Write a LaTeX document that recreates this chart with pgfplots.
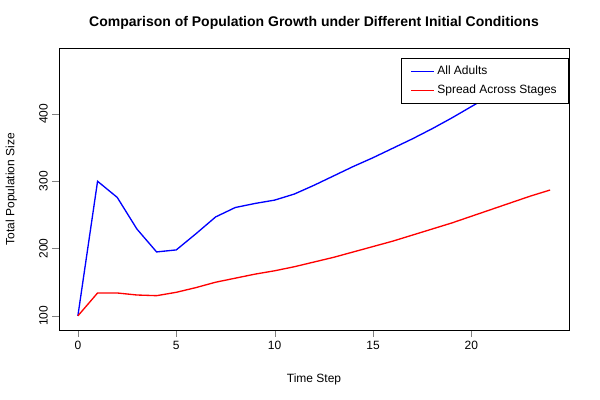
\documentclass[border=0pt]{standalone}
\usepackage{pgfplots}
\pgfplotsset{compat=1.18}
\usepackage{fontspec}
\setmainfont{Liberation Sans}
\begin{document}
\begin{tikzpicture}[x=1pt,y=1pt]
\begin{axis}[name=ax, at={(0,0)}, anchor=south west,
  scale only axis, width=382.5pt, height=211.5pt,
  xmin=-0.96, xmax=24.96, ymin=79, ymax=498,
  xtick={0,5,10,15,20}, ytick={100,200,300,400},
  tick align=outside, major tick length=5pt,
  xtick pos=bottom, ytick pos=left,
  /pgf/number format/assume math mode=true,
  tick label style={font=\fontsize{9}{10}\selectfont},
  yticklabel style={rotate=90, anchor=south},
  xlabel={Time Step}, ylabel={Total Population Size},
  label style={font=\fontsize{9}{10}\selectfont},
  xlabel style={at={(axis description cs:0.5,0)}, anchor=north, yshift=-29pt},
  ylabel style={at={(axis description cs:0,0.5)}, anchor=south, yshift=28pt},
  title={\bfseries Comparison of Population Growth under Different Initial Conditions},
  title style={font=\fontsize{10.5}{12}\selectfont, at={(axis description cs:0.5,1)}, anchor=center, yshift=12.75pt},
  legend style={at={(axis cs:24.96,498)}, anchor=north east, yshift=-7.5pt,
    draw=black, font=\fontsize{9}{10}\selectfont, row sep=2pt, inner xsep=7pt, inner ysep=4pt},
  legend cell align=left,
]
\addplot[blue, line width=1pt] coordinates {(0,100)(1,300)(2,276)(3,229)(4,195)(5,198)(6,222)(7,247)(8,261)(9,267)(10,272)(11,281)(12,294)(13,308)(14,322)(15,335)(16,349)(17,363)(18,378)(19,394)(20,411)(21,428)(22,445)(23,462)(24,476)};
\addlegendentry{All Adults}
\addplot[red, line width=1pt] coordinates {(0,100)(1,134)(2,134)(3,131)(4,130)(5,135)(6,142)(7,150)(8,156)(9,162)(10,167)(11,173)(12,180)(13,187)(14,195)(15,203)(16,211)(17,220)(18,229)(19,238)(20,248)(21,258)(22,268)(23,278)(24,287)};
\addlegendentry{Spread Across Stages}
\end{axis}
\pgfresetboundingbox
\path (ax.south west) ++(-44.25pt,-52.5pt) rectangle ++(450pt,300pt);
\end{tikzpicture}
\end{document}
